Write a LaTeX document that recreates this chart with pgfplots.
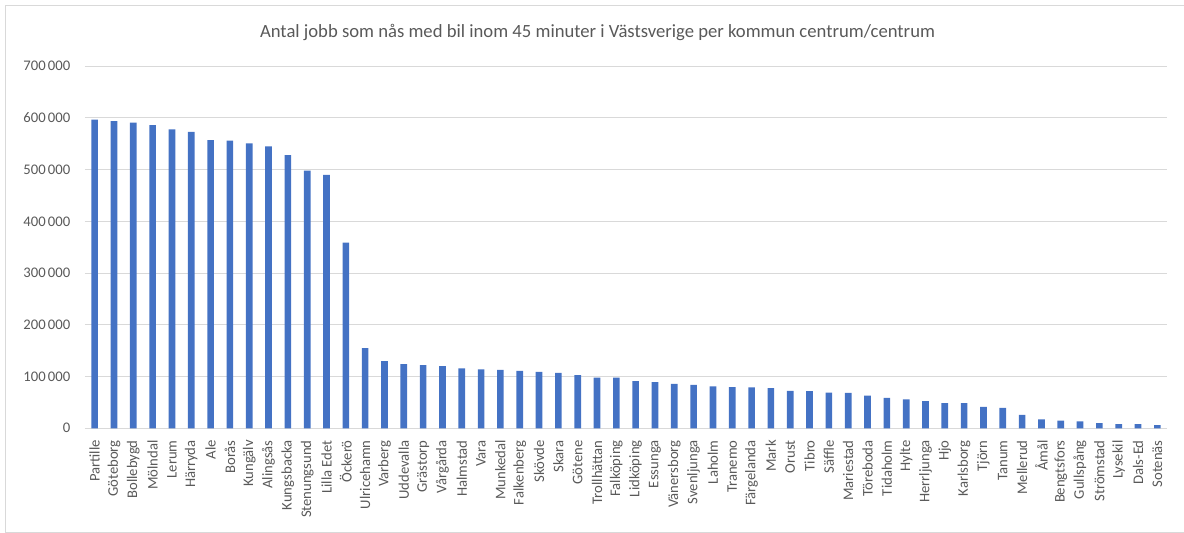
\documentclass[border=0pt]{standalone}
\usepackage{fontspec}
\setmainfont{Carlito}
\usepackage{pgfplots}
\usepackage{pgfplotstable}
\pgfplotsset{compat=1.18}
\definecolor{barblue}{HTML}{4472C4}
\definecolor{txtgrey}{HTML}{595959}
\definecolor{gridgrey}{HTML}{D9D9D9}

\pgfplotstableread[col sep=comma]{
x,name,jobs
0,Partille,597000
1,Göteborg,594000
2,Bollebygd,591000
3,Mölndal,586000
4,Lerum,578000
5,Härryda,573000
6,Ale,557000
7,Borås,556000
8,Kungälv,551000
9,Alingsås,545000
10,Kungsbacka,528000
11,Stenungsund,498000
12,Lilla Edet,490000
13,Öckerö,359000
14,Ulricehamn,155000
15,Varberg,130000
16,Uddevalla,124000
17,Grästorp,122000
18,Vårgårda,120000
19,Halmstad,116000
20,Vara,114000
21,Munkedal,113000
22,Falkenberg,111000
23,Skövde,109000
24,Skara,107000
25,Götene,103000
26,Trollhättan,98000
27,Falköping,98000
28,Lidköping,91000
29,Essunga,89000
30,Vänersborg,86000
31,Svenljunga,84000
32,Laholm,81000
33,Tranemo,79500
34,Färgelanda,79000
35,Mark,77500
36,Orust,72500
37,Tibro,72000
38,Säffle,69000
39,Mariestad,68500
40,Töreboda,63000
41,Tidaholm,59000
42,Hylte,56000
43,Herrljunga,52500
44,Hjo,48500
45,Karlsborg,48500
46,Tjörn,41500
47,Tanum,39500
48,Mellerud,26000
49,Åmål,17000
50,Bengtsfors,15000
51,Gullspång,13500
52,Strömstad,10000
53,Lysekil,8000
54,Dals-Ed,8000
55,Sotenäs,6000
}\jobsdata

\begin{document}
\begin{tikzpicture}
% page size and outer frame (1 px = 0.75pt, origin at plot area's lower left)
\useasboundingbox (-63.75pt,-78.5pt) rectangle (824.25pt,321.2pt);
\draw[gridgrey, line width=0.6pt] (830pt,317.5pt) -- (-60pt,317.5pt) -- (-60pt,-77.8pt) -- (830pt,-77.8pt);
\begin{axis}[
  at={(0,0)}, anchor=south west,
  scale only axis,
  width=811.5pt, height=271.5pt,
  xmin=-0.5, xmax=55.5,
  ymin=0, ymax=700000,
  ytick={0,100000,...,700000},
  scaled y ticks=false,
  /pgf/number format/fixed,
  /pgf/number format/1000 sep={\hspace{0.15em}},
  /pgf/number format/assume math mode=true,
  xtick=data,
  xticklabels from table={\jobsdata}{name},
  xticklabel style={rotate=90, anchor=east, xshift=-5.5pt},
  tick label style={font=\fontsize{11pt}{13pt}\selectfont, text=txtgrey},
  yticklabel style={xshift=-7.5pt},
  major tick length=0pt,
  ymajorgrids,
  grid style={gridgrey, line width=0.75pt},
  axis lines*=left,
  y axis line style={draw=none},
  x axis line style={draw=gridgrey, line width=0.75pt, -},
  clip=false,
  ybar, bar width=5pt,
]
\addplot[fill=barblue, draw=none] table[x=x, y=jobs] {\jobsdata};
\end{axis}
\node[text=txtgrey, font=\fontsize{14pt}{16pt}\selectfont] at (384.4pt,296.5pt)
  {Antal jobb som nås med bil inom 45 minuter i Västsverige per kommun centrum/centrum};
\end{tikzpicture}
\end{document}
